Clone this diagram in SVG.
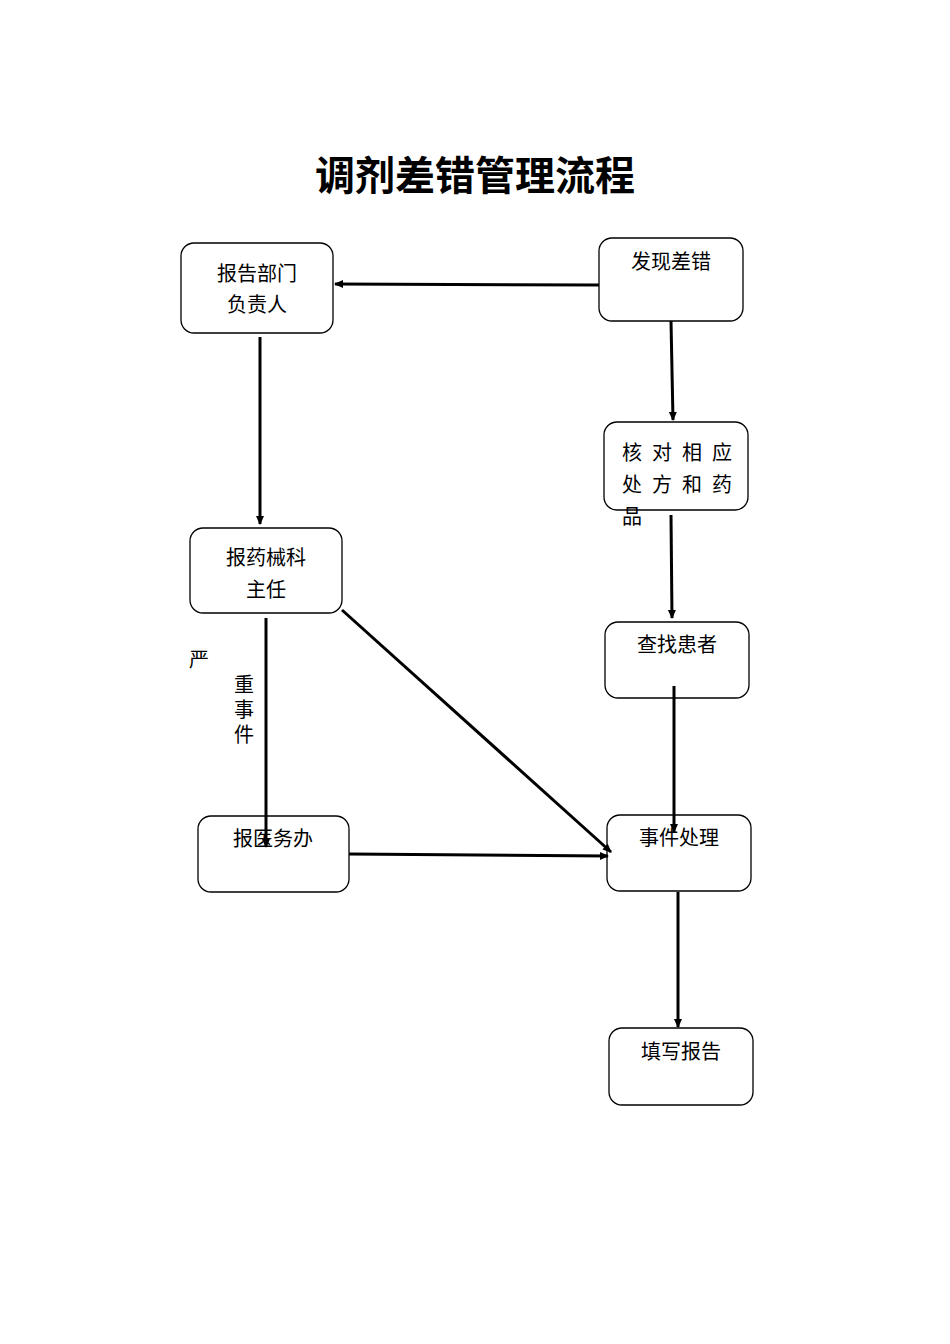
<svg xmlns="http://www.w3.org/2000/svg" width="950" height="1344" viewBox="0 0 950 1344">
<style>
.b{fill:#fff;stroke:#000;stroke-width:1.3}
.t{font-family:"Liberation Serif","Noto Sans CJK SC",serif;font-size:20px;fill:#000}
.c{stroke:#000;stroke-width:3;fill:none;marker-end:url(#a)}
</style>
<defs><marker id="a" markerWidth="10" markerHeight="10" refX="8" refY="5" orient="auto" markerUnits="userSpaceOnUse"><path d="M0,1 L9,5 L0,9 Z" fill="#000"/></marker></defs>
<rect width="950" height="1344" fill="#fff"/>
<text x="475" y="190" text-anchor="middle" style="font-family:'Noto Sans CJK SC',serif;font-size:40px;font-weight:bold">调剂差错管理流程</text>
<g id="n1"><rect class="b" x="181" y="243" width="152" height="90" rx="13"/><text class="t" x="257" y="281" text-anchor="middle">报告部门</text><text class="t" x="257" y="312" text-anchor="middle">负责人</text></g>
<g id="n2"><rect class="b" x="599" y="238" width="144" height="83" rx="13"/><text class="t" x="671" y="269" text-anchor="middle">发现差错</text></g>
<g id="n3"><rect class="b" x="604" y="422" width="144" height="88" rx="13"/><text class="t" x="622" y="460" textLength="110">核对相应</text><text class="t" x="622" y="492" textLength="110">处方和药</text><text class="t" x="622" y="524">品</text></g>
<g id="n4"><rect class="b" x="605" y="622" width="144" height="76" rx="13"/><text class="t" x="677" y="652" text-anchor="middle">查找患者</text></g>
<g id="n5"><rect class="b" x="190" y="528" width="152" height="85" rx="13"/><text class="t" x="266" y="565" text-anchor="middle">报药械科</text><text class="t" x="266" y="597" text-anchor="middle">主任</text></g>
<g id="n6"><rect class="b" x="198" y="816" width="151" height="76" rx="13"/><text class="t" x="273" y="846" text-anchor="middle">报医务办</text></g>
<g id="n7"><rect class="b" x="607" y="815" width="144" height="76" rx="13"/><text class="t" x="679" y="845" text-anchor="middle">事件处理</text></g>
<g id="n8"><rect class="b" x="609" y="1028" width="144" height="77" rx="13"/><text class="t" x="681" y="1059" text-anchor="middle">填写报告</text></g>
<g id="lbl"><text class="t" x="189" y="667">严</text><text class="t" x="234" y="692">重</text><text class="t" x="234" y="717">事</text><text class="t" x="234" y="742">件</text></g>
<g id="connectors">
<path class="c" d="M599,285 L335,284"/>
<path class="c" d="M671,321 L673,420"/>
<path class="c" d="M260,337 L260,524"/>
<path class="c" d="M671,515 L672,618"/>
<path class="c" d="M266,618 L266,847"/>
<path class="c" d="M342,610 L611,852"/>
<path class="c" d="M674,686 L674,832"/>
<path class="c" d="M349,854 L608,856"/>
<path class="c" d="M678,892 L678,1027"/>
</g>
</svg>
